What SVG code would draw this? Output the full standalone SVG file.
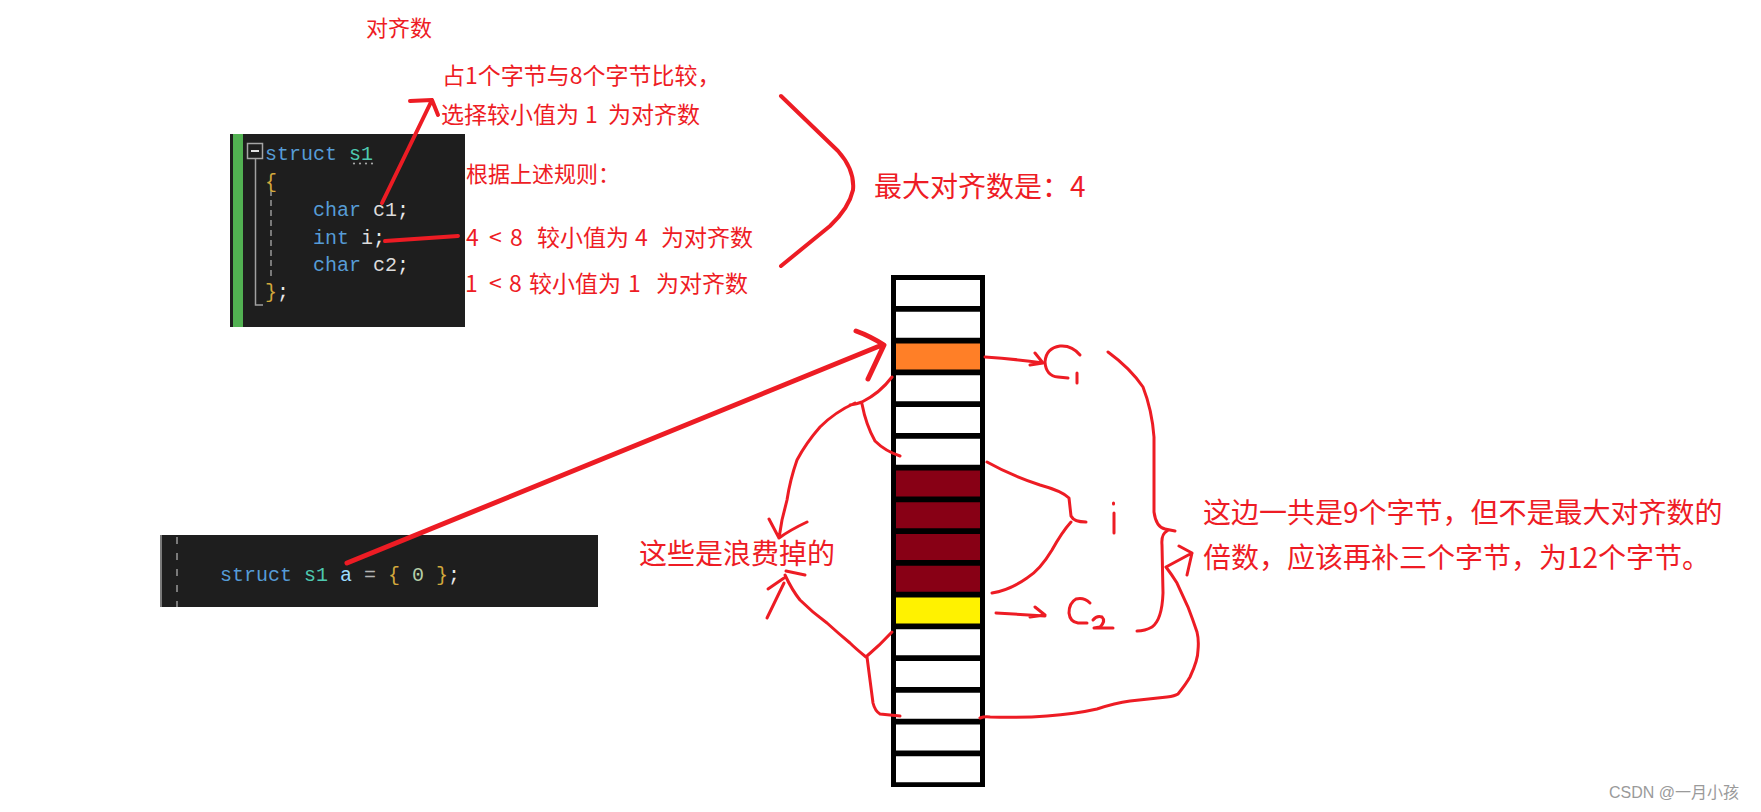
<svg xmlns="http://www.w3.org/2000/svg" width="1761" height="812" viewBox="0 0 1761 812">
<style>
.code{font-family:"Liberation Mono",monospace;font-size:20px}
.kw{fill:#569cd6}.ty{fill:#4ec9b0}.id{fill:#dcdcdc}.br{fill:#d2a83c}.pu{fill:#e8e8e8}.va{fill:#9cdcfe}.op{fill:#b4b4b4}.nu{fill:#b5cea8}
.lbl{font-family:"Noto Sans CJK SC","Noto Sans",sans-serif;fill:#ee1c25}
.pen{fill:none;stroke:#ed1c24;stroke-linecap:round;stroke-linejoin:round}
.w3{stroke-width:3}.w4{stroke-width:4}.w5{stroke-width:5}
.cell{fill:#ffffff}
</style>
<rect width="1761" height="812" fill="#ffffff"/>

<g id="code-struct">
<rect x="230" y="134" width="235" height="193" fill="#1e1e1e"/>
<rect x="233" y="134" width="10" height="193" fill="#52b152"/>
<rect x="247.5" y="143.5" width="15" height="15" fill="none" stroke="#a5a5a5" stroke-width="1.5"/>
<line x1="251" y1="151" x2="259" y2="151" stroke="#e0e0e0" stroke-width="2"/>
<path d="M255.5,159 V305 H263" fill="none" stroke="#a0a0a0" stroke-width="1.5"/>
<path d="M271,190 V280" fill="none" stroke="#7a7a7a" stroke-width="2" stroke-dasharray="6,4"/>
<g fill="#a8a8a8"><circle cx="354" cy="163.5" r="1.1"/><circle cx="360" cy="163.5" r="1.1"/><circle cx="366" cy="163.5" r="1.1"/><circle cx="372" cy="163.5" r="1.1"/></g>
<text class="code" y="160"><tspan class="kw" x="265">struct</tspan><tspan class="ty" x="349">s1</tspan></text>
<text class="code br" x="265" y="188">{</text>
<text class="code" y="216"><tspan class="kw" x="313">char</tspan><tspan class="id" x="373">c1</tspan><tspan class="pu" x="397">;</tspan></text>
<text class="code" y="243.5"><tspan class="kw" x="313">int</tspan><tspan class="id" x="361">i</tspan><tspan class="pu" x="373">;</tspan></text>
<text class="code" y="271"><tspan class="kw" x="313">char</tspan><tspan class="id" x="373">c2</tspan><tspan class="pu" x="397">;</tspan></text>
<text class="code" y="298"><tspan class="br" x="265">}</tspan><tspan class="pu" x="277">;</tspan></text>
</g>

<g id="code-decl">
<rect x="160" y="535" width="438" height="72" fill="#1e1e1e"/>
<rect x="160" y="535" width="2" height="72" fill="#7a7a7a"/>
<path d="M177,537 V607" fill="none" stroke="#7a7a7a" stroke-width="2" stroke-dasharray="7,9"/>
<text class="code" y="581"><tspan class="kw" x="220">struct</tspan><tspan class="ty" x="304">s1</tspan><tspan class="va" x="340">a</tspan><tspan class="op" x="364">=</tspan><tspan class="br" x="388">{</tspan><tspan class="nu" x="412">0</tspan><tspan class="br" x="436">}</tspan><tspan class="pu" x="448">;</tspan></text>
</g>

<g id="memory">
<rect x="891" y="275" width="94" height="512" fill="#000000"/>
<rect class="cell" x="896" y="280" width="84" height="26"/>
<rect class="cell" x="896" y="311.75" width="84" height="26"/>
<rect x="896" y="343.5" width="84" height="26" fill="#ff7f27"/>
<rect class="cell" x="896" y="375.25" width="84" height="26"/>
<rect class="cell" x="896" y="407" width="84" height="26"/>
<rect class="cell" x="896" y="438.75" width="84" height="26"/>
<rect x="896" y="470.5" width="84" height="26" fill="#880015"/>
<rect x="896" y="502.25" width="84" height="26" fill="#880015"/>
<rect x="896" y="534" width="84" height="26" fill="#880015"/>
<rect x="896" y="565.75" width="84" height="26" fill="#880015"/>
<rect x="896" y="597.5" width="84" height="26" fill="#fff200"/>
<rect class="cell" x="896" y="629.25" width="84" height="26"/>
<rect class="cell" x="896" y="661" width="84" height="26"/>
<rect class="cell" x="896" y="692.75" width="84" height="26"/>
<rect class="cell" x="896" y="724.5" width="84" height="26"/>
<rect class="cell" x="896" y="756.25" width="84" height="26"/>
</g>

<g id="labels">
<text class="lbl" x="366" y="36" font-size="22">对齐数</text>
<text class="lbl" x="442" y="84" font-size="23">占1个字节与8个字节比较，</text>
<text class="lbl" y="123" font-size="23"><tspan x="441">选择较小值为</tspan><tspan x="585">1</tspan><tspan x="608">为对齐数</tspan></text>
<text class="lbl" x="466" y="182" font-size="22">根据上述规则：</text>
<text class="lbl" y="246" font-size="23"><tspan x="466">4</tspan><tspan x="489">&lt;</tspan><tspan x="510">8</tspan><tspan x="537">较小值为</tspan><tspan x="635">4</tspan><tspan x="661">为对齐数</tspan></text>
<text class="lbl" y="292" font-size="23"><tspan x="465">1</tspan><tspan x="489">&lt;</tspan><tspan x="509">8</tspan><tspan x="529">较小值为</tspan><tspan x="628">1</tspan><tspan x="656">为对齐数</tspan></text>
<text class="lbl" x="874" y="197" font-size="28">最大对齐数是：4</text>
<text class="lbl" x="639" y="564" font-size="28">这些是浪费掉的</text>
<text class="lbl" x="1203" y="523" font-size="28">这边一共是9个字节，但不是最大对齐数的</text>
<text class="lbl" x="1203" y="568" font-size="28">倍数，应该再补三个字节，为12个字节。</text>
<text x="1609" y="798" font-family="'Liberation Sans','Noto Sans CJK SC',sans-serif" font-size="16" fill="#9a9a9a">CSDN @一月小孩</text>
</g>

<g id="connectors">
<path class="pen w4" d="M382,203 L432,100 M410,101 L432,100 L438,115"/>
<path class="pen w4" d="M385,241 L458,236"/>
<path class="pen w4" d="M781,96 L838,151 Q855,170 853,190 Q849,208 830,226 L781,266"/>
<path class="pen w5" d="M347,563 L882,345 M856,331 Q870,336 884,345 L868,379"/>
<path class="pen w3" d="M985,357 Q1015,359 1043,363 M1035,353 L1043,363 L1030,365"/>
<path class="pen w3" d="M1080,355 Q1072,345 1060,346 Q1046,348 1045,362 Q1046,376 1058,377 L1068,378 M1077,373 L1077,383"/>
<path class="pen w3" d="M1108,352 Q1130,368 1143,387 Q1152,410 1154,437 L1154,512 Q1156,527 1165,529 L1175,531 M1167,531 Q1161,534 1162,545 L1163,593 Q1162,620 1152,627 Q1145,631 1137,631"/>
<path class="pen w3" d="M987,462 Q1010,475 1040,485 Q1062,491 1069,498 L1071,516 Q1074,522 1086,522 M1071,522 Q1062,532 1052,550 Q1040,570 1027,578 Q1010,590 992,593"/>
<path class="pen w3" d="M1113.5,503 L1113.5,504 M1114,513 L1114,533"/>
<path class="pen w3" d="M996,613 L1045,616 M1035,607 L1045,615 L1030,617"/>
<path class="pen w3" d="M1090,603 Q1084,597 1076,599 Q1069,603 1069,613 Q1070,622 1078,623 L1087,623 M1093,620 Q1097,615 1102,617 Q1106,621 1100,627 L1094,628 L1113,628"/>
<path class="pen w3" d="M980,718 Q985,716 990,717 Q1020,718 1047,716 Q1075,714 1097,709 Q1115,703 1130,701 L1167,697 Q1175,696 1178,694 Q1186,684 1190,677 Q1198,660 1198,650 Q1199,640 1197,632 Q1193,620 1188,607 Q1182,594 1177,583 Q1172,575 1166,567 L1192,553 M1179,546 L1192,553 L1187,575"/>
<path class="pen w3" d="M892,377 Q880,393 862,402 Q857,404 850,405 M855,403 Q835,412 820,427 Q806,443 797,460 Q790,480 787,500 L782,520 L779,538 M769,519 L779,538 Q790,530 807,522 M862,404 Q866,425 875,441 Q885,451 900,456"/>
<path class="pen w3" d="M892,632 Q880,645 867,656 M866,657 Q855,648 850,643 Q838,633 827,623 Q812,612 800,600 Q792,590 785,575 M786,571 L805,575 M784,578 L768,589 M784,583 L767,618 M867,657 Q870,680 873,703 Q875,711 880,714 L900,716"/>
</g>
</svg>
